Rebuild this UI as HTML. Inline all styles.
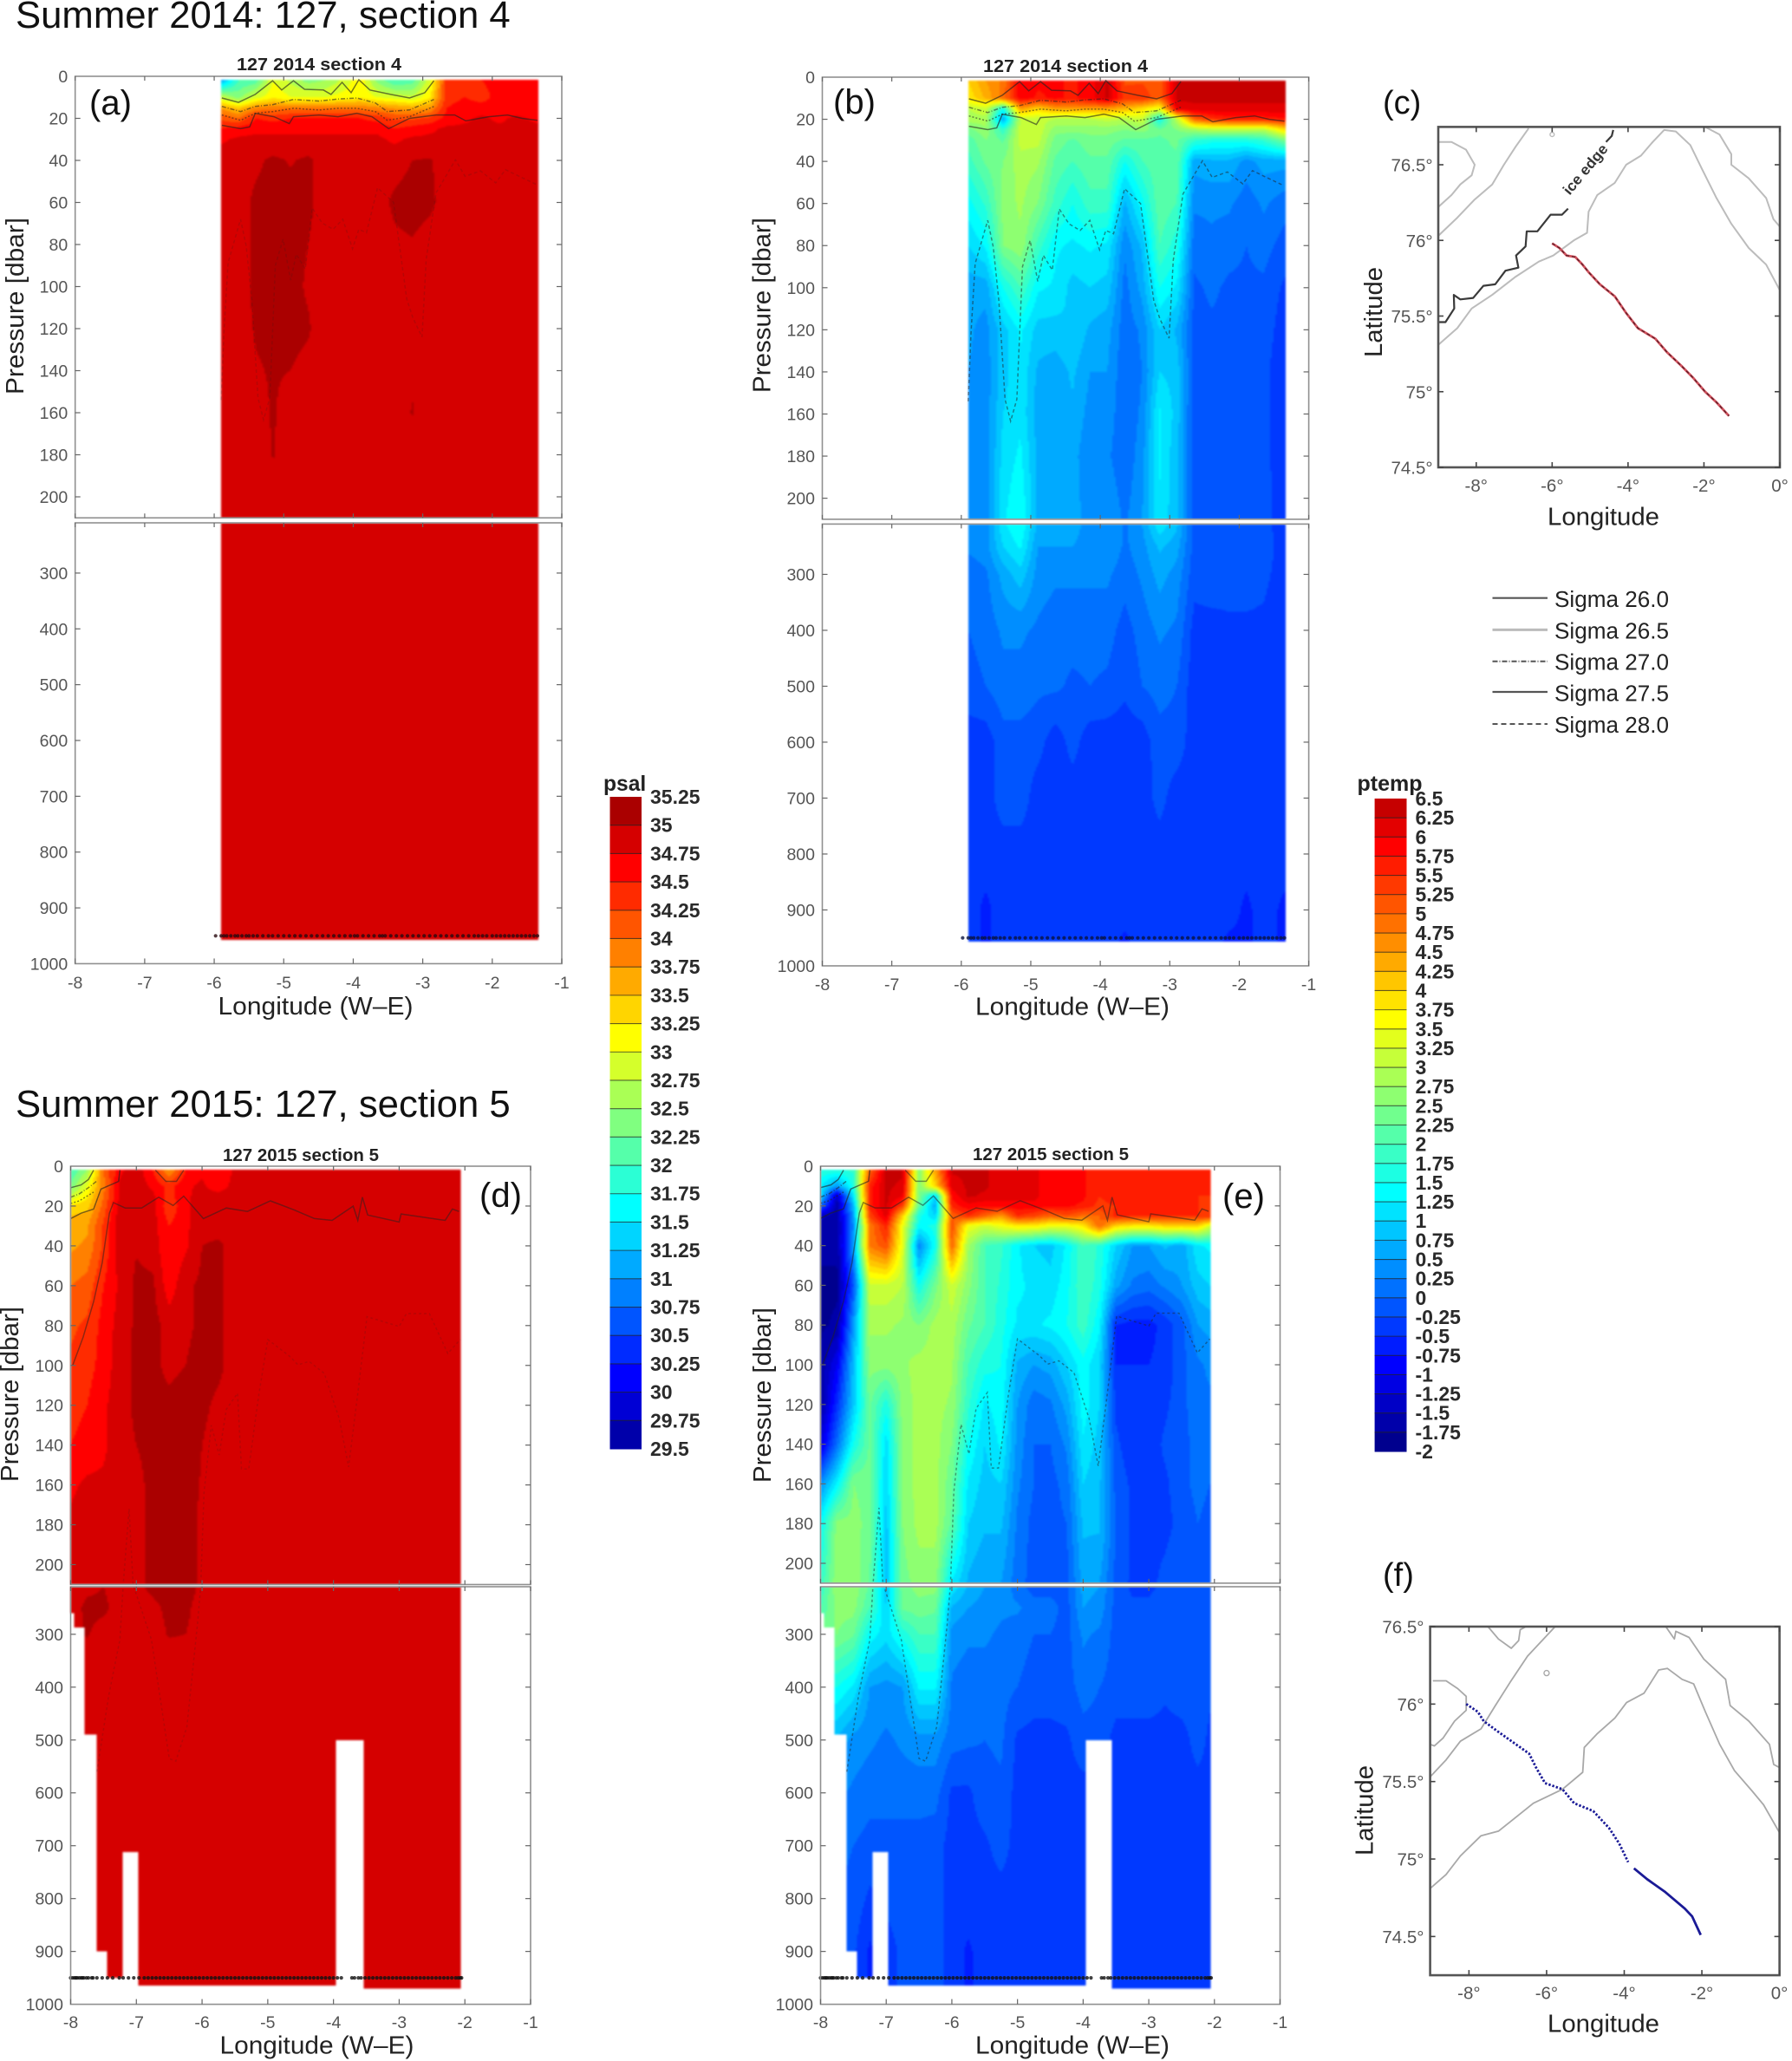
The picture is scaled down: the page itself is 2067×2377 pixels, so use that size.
<!DOCTYPE html>
<html lang="en">
<head>
<meta charset="utf-8">
<title>Summer 2014 and 2015 sections</title>
<style>
html,body{margin:0;padding:0;background:#fff;}
svg{display:block;font-family:"Liberation Sans",Arial,sans-serif;}
</style>
</head>
<body>
<svg id="figure" xmlns="http://www.w3.org/2000/svg" width="2067" height="2377" viewBox="0 0 2067 2377">
<rect x="0" y="0" width="2067" height="2377" fill="#fff"/>
<g id="fields" style="filter:blur(1px)"></g>
<g id="overlays"></g>

<text x="18" y="32" font-size="43.7" fill="#111">Summer 2014: 127, section 4</text>
<text x="18" y="1288" font-size="43.7" fill="#111">Summer 2015: 127, section 5</text>

<text x="368" y="81" font-size="20" font-weight="bold" fill="#222" text-anchor="middle" textLength="190" lengthAdjust="spacingAndGlyphs">127 2014 section 4</text>
<text x="1229" y="83" font-size="20" font-weight="bold" fill="#222" text-anchor="middle" textLength="190" lengthAdjust="spacingAndGlyphs">127 2014 section 4</text>
<text x="347" y="1339" font-size="20" font-weight="bold" fill="#222" text-anchor="middle" textLength="180" lengthAdjust="spacingAndGlyphs">127 2015 section 5</text>
<text x="1212" y="1338" font-size="20" font-weight="bold" fill="#222" text-anchor="middle" textLength="180" lengthAdjust="spacingAndGlyphs">127 2015 section 5</text>

<text x="103" y="132" font-size="40" fill="#111">(a)</text>
<text x="961" y="131" font-size="40" fill="#111">(b)</text>
<text x="1595" y="131" font-size="38" fill="#111">(c)</text>
<text x="553" y="1392" font-size="40" fill="#111">(d)</text>
<text x="1410" y="1393" font-size="40" fill="#111">(e)</text>
<text x="1595" y="1829" font-size="38" fill="#111">(f)</text>

<text transform="translate(27,353) rotate(-90)" font-size="29" fill="#222" text-anchor="middle" textLength="204" lengthAdjust="spacingAndGlyphs">Pressure [dbar]</text>
<text transform="translate(888.5,352) rotate(-90)" font-size="29" fill="#222" text-anchor="middle" textLength="202" lengthAdjust="spacingAndGlyphs">Pressure [dbar]</text>
<text transform="translate(21,1608) rotate(-90)" font-size="29" fill="#222" text-anchor="middle" textLength="202" lengthAdjust="spacingAndGlyphs">Pressure [dbar]</text>
<text transform="translate(889,1609) rotate(-90)" font-size="29" fill="#222" text-anchor="middle" textLength="202" lengthAdjust="spacingAndGlyphs">Pressure [dbar]</text>

<text x="364" y="1170" font-size="29" fill="#222" text-anchor="middle" textLength="225" lengthAdjust="spacingAndGlyphs">Longitude (W–E)</text>
<text x="1237" y="1170.5" font-size="29" fill="#222" text-anchor="middle" textLength="224" lengthAdjust="spacingAndGlyphs">Longitude (W–E)</text>
<text x="365.5" y="2368.5" font-size="29" fill="#222" text-anchor="middle" textLength="224" lengthAdjust="spacingAndGlyphs">Longitude (W–E)</text>
<text x="1237" y="2368.5" font-size="29" fill="#222" text-anchor="middle" textLength="224" lengthAdjust="spacingAndGlyphs">Longitude (W–E)</text>

<text x="1849.5" y="605.5" font-size="29" fill="#222" text-anchor="middle" textLength="129" lengthAdjust="spacingAndGlyphs">Longitude</text>
<text transform="translate(1594,360) rotate(-90)" font-size="29" fill="#222" text-anchor="middle" textLength="104" lengthAdjust="spacingAndGlyphs">Latitude</text>
<text x="1849.5" y="2343.5" font-size="29" fill="#222" text-anchor="middle" textLength="129" lengthAdjust="spacingAndGlyphs">Longitude</text>
<text transform="translate(1583.5,2088) rotate(-90)" font-size="29" fill="#222" text-anchor="middle" textLength="104" lengthAdjust="spacingAndGlyphs">Latitude</text>
<text transform="translate(1833,199) rotate(-50)" font-size="17" font-weight="bold" fill="#333" text-anchor="middle" textLength="70" lengthAdjust="spacingAndGlyphs">ice edge</text>

<g>
<line x1="1721.5" x2="1785" y1="689.7" y2="689.7" stroke="#555" stroke-width="2.2"/>
<line x1="1721.5" x2="1785" y1="726.4" y2="726.4" stroke="#bbb" stroke-width="3"/>
<line x1="1721.5" x2="1785" y1="762.7" y2="762.7" stroke="#555" stroke-width="2" stroke-dasharray="6 2 1 2"/>
<line x1="1721.5" x2="1785" y1="798" y2="798" stroke="#555" stroke-width="2.2"/>
<line x1="1721.5" x2="1785" y1="835" y2="835" stroke="#555" stroke-width="2" stroke-dasharray="6 4"/>
<text x="1793" y="700" font-size="25.5" fill="#222" textLength="132" lengthAdjust="spacingAndGlyphs">Sigma 26.0</text>
<text x="1793" y="736.6" font-size="25.5" fill="#222" textLength="132" lengthAdjust="spacingAndGlyphs">Sigma 26.5</text>
<text x="1793" y="772.5" font-size="25.5" fill="#222" textLength="132" lengthAdjust="spacingAndGlyphs">Sigma 27.0</text>
<text x="1793" y="808.5" font-size="25.5" fill="#222" textLength="132" lengthAdjust="spacingAndGlyphs">Sigma 27.5</text>
<text x="1793" y="845" font-size="25.5" fill="#222" textLength="132" lengthAdjust="spacingAndGlyphs">Sigma 28.0</text>
</g>

<text x="696" y="912" font-size="24.6" font-weight="bold" fill="#222">psal</text>
<text x="1565.5" y="912" font-size="25" font-weight="bold" fill="#222">ptemp</text>
</svg>

<script>
/* ---------- tick labels ---------- */
const xTickLons = [-8,-7,-6,-5,-4,-3,-2,-1];
const upperPressureTicks = [0,20,40,60,80,100,120,140,160,180,200];
const lowerPressureTicks = [300,400,500,600,700,800,900,1000];
const psalTicks = [35.25,35,34.75,34.5,34.25,34,33.75,33.5,33.25,33,32.75,32.5,32.25,32,31.75,31.5,31.25,31,30.75,30.5,30.25,30,29.75,29.5];
const ptempTicks = [6.5,6.25,6,5.75,5.5,5.25,5,4.75,4.5,4.25,4,3.75,3.5,3.25,3,2.75,2.5,2.25,2,1.75,1.5,1.25,1,0.75,0.5,0.25,0,-0.25,-0.5,-0.75,-1,-1.25,-1.5,-1.75,-2];
const mapLonTicks = [-8,-6,-4,-2,0];
const mapLatTicks = [76.5,76,75.5,75,74.5];

/* ---------- section grids ---------- */
const lon2014 = [-5.9,-5.65,-5.4,-5.15,-4.9,-4.65,-4.4,-4.15,-3.9,-3.65,-3.4,-3.15,-2.9,-2.65,-2.4,-2.15,-1.9,-1.65,-1.35];
const lon2015 = [-8,-7.75,-7.5,-7.25,-7,-6.75,-6.5,-6.25,-6,-5.75,-5.5,-5.25,-5,-4.75,-4.5,-4.25,-4,-3.75,-3.5,-3.25,-3,-2.75,-2.5,-2.25,-2.07];
const lonSalinity2015 = [-8,-7.75,-7.5,-7.25,-7,-6.75,-6.5,-6.25,-6,-5.75,-5.5,-5.25,-2.07];

const pressureSalinity2014 = [2,10,15,20,25,30,40,60,80,100,120,140,160,180,210,957];
const salinity2014 = [
[31.1,32,32.1,33,32.7,32.4,32.5,32.8,33.2,32.4,32,32.1,32.9,34.4,34.4,34.5,34.6,34.6,34.6],
[32.8,32.4,32.9,33.2,33,33,33,33.1,33.2,33,32.9,32.8,33.2,34.4,34.5,34.4,34.6,34.6,34.6],
[33.7,33.4,33.8,33.9,33.9,33.9,33.9,33.9,33.9,33.8,33.7,33.6,33.7,34.5,34.6,34.6,34.6,34.6,34.6],
[34.2,34,34.5,34.4,34.5,34.5,34.5,34.5,34.5,34.4,34.2,34.2,34.3,34.6,34.7,34.8,34.7,34.8,34.7],
[34.5,34.6,34.7,34.7,34.7,34.7,34.7,34.7,34.7,34.7,34.5,34.6,34.7,34.8,34.8,34.8,34.8,34.8,34.8],
[34.7,34.8,34.8,34.8,34.8,34.8,34.8,34.8,34.8,34.8,34.7,34.8,34.8,34.8,34.8,34.8,34.8,34.8,34.8],
[34.9,34.9,34.95,35.05,34.98,35.05,34.9,34.9,34.98,34.9,34.9,35,35.02,34.9,34.9,34.9,34.9,34.9,34.9],
[34.9,34.9,35.05,35.1,35.1,35.05,34.9,34.9,34.9,34.9,35.05,35.1,35.05,34.9,34.9,34.9,34.9,34.9,34.9],
[34.9,34.9,35.05,35.1,35.05,35,34.9,34.9,34.9,34.9,34.95,34.98,34.9,34.9,34.9,34.9,34.9,34.9,34.9],
[34.9,34.9,35.05,35.1,35.05,34.98,34.9,34.9,34.9,34.9,34.9,34.9,34.9,34.9,34.9,34.9,34.9,34.9,34.9],
[34.9,34.9,35.02,35.05,35.05,35.02,34.9,34.9,34.9,34.9,34.9,34.9,34.9,34.9,34.9,34.9,34.9,34.9,34.9],
[34.9,34.9,34.98,35.02,35,34.95,34.9,34.9,34.9,34.9,34.9,34.98,34.9,34.9,34.9,34.9,34.9,34.9,34.9],
[34.9,34.9,34.92,35.02,34.9,34.9,34.9,34.9,34.9,34.9,34.9,35.01,34.9,34.9,34.9,34.9,34.9,34.9,34.9],
[34.9,34.9,34.9,35.01,34.9,34.9,34.9,34.9,34.9,34.9,34.9,34.9,34.9,34.9,34.9,34.9,34.9,34.9,34.9],
[34.9,34.9,34.9,34.9,34.9,34.9,34.9,34.9,34.9,34.9,34.9,34.9,34.9,34.9,34.9,34.9,34.9,34.9,34.9],
[34.9,34.9,34.9,34.9,34.9,34.9,34.9,34.9,34.9,34.9,34.9,34.9,34.9,34.9,34.9,34.9,34.9,34.9,34.9]
];

const pressureTemperature2014 = [2,10,15,20,25,30,40,60,80,100,120,140,160,180,210,250,300,400,500,600,700,800,900,957];
const temperature2014 = [
[4.0,4.5,4.8,6,5.8,5.8,5.7,5.9,6.3,5.2,5.2,5.0,6.3,6.3,6.3,6.3,6.3,6.3,6.3],
[3.8,4.3,4.9,5.9,5.7,5.8,5.7,5.9,6.3,5.4,5.5,5.0,6.3,6.3,6.3,6.3,6.3,6.3,6.3],
[3.0,3.2,1.5,4.5,4.0,4.5,4.5,4.5,4.5,4.3,3.9,3.5,6.1,6.2,6.2,6.2,6.2,6.2,6.2],
[2.9,2.9,0.6,3.1,3.1,3.0,3.0,3.0,3.1,3.0,3.2,1.5,3.0,5.0,5.4,5.6,5.6,5.6,5.7],
[2.4,2.7,1.8,3.1,3.2,2.6,2.6,2.6,2.6,2.5,2.6,2.3,2.5,2.8,3.0,3.0,3.0,3.0,3.9],
[2.1,2.5,2.2,3.1,3.1,2.4,2.2,2.4,2.4,2.2,2.2,2.2,2.3,1.8,1.6,1.6,1.6,1.8,2.4],
[1.9,2.3,2.5,2.9,2.8,2.2,2.0,2.2,2.2,1.5,2.0,2.2,2.2,0.6,0.7,0.7,0.4,0.6,0.6],
[1.4,1.8,2.6,2.8,2.5,1.9,1.5,1.9,1.9,0.7,1.4,2.2,2.0,0.3,0.3,0.3,0.1,0.3,0.1],
[1.0,1.3,2.5,2.7,1.9,1.3,1.2,1.3,1.2,0.3,0.8,2.0,1.6,0.1,0.2,0.1,0,0.1,-0.1],
[0.6,0.6,1.5,2.0,1.3,1.2,0.9,1.0,0.9,0.15,0.6,1.5,1.2,-0.05,0.05,-0.05,-0.05,-0.05,-0.3],
[0.55,0.4,0.9,1.3,0.9,0.9,1.0,0.7,0.6,0.1,0.3,1.0,0.7,-0.1,-0.05,-0.05,-0.1,-0.1,-0.4],
[0.5,0.35,0.9,1.2,0.7,0.6,0.8,0.5,0.5,0.05,0.25,1.0,0.9,-0.1,-0.1,-0.1,-0.1,-0.15,-0.5],
[0.5,0.35,1.0,1.2,0.6,0.6,0.7,0.4,0.4,0.05,0.3,1.3,0.9,-0.15,-0.1,-0.1,-0.1,-0.15,-0.5],
[0.45,0.35,1.1,1.3,0.7,0.5,0.6,0.3,0.3,0.05,0.4,1.3,0.8,-0.1,-0.1,-0.1,-0.1,-0.15,-0.45],
[0.45,0.35,1.2,1.5,0.7,0.6,0.6,0.4,0.5,0.2,0.5,1.2,0.8,-0.1,-0.1,-0.1,-0.1,-0.15,-0.4],
[0.3,0.4,1.0,1.3,0.5,0.5,0.5,0.4,0.5,0.2,0.4,0.8,0.6,-0.1,-0.1,-0.1,-0.1,-0.15,-0.35],
[0.1,0.2,0.6,0.9,0.4,0.3,0.3,0.3,0.3,0.1,0.3,0.6,0.4,-0.15,-0.1,-0.15,-0.15,-0.2,-0.35],
[0,0.1,0.3,0.3,0.2,0.1,0.1,0.1,0.1,-0.1,0.1,0.3,0.2,-0.35,-0.35,-0.3,-0.3,-0.3,-0.4],
[-0.1,0,0.15,0.15,0.05,0.05,-0.05,0,-0.05,-0.2,0,0.1,0,-0.4,-0.4,-0.4,-0.4,-0.4,-0.4],
[-0.4,-0.4,-0.1,-0.1,-0.15,-0.4,-0.15,-0.4,-0.4,-0.4,-0.4,-0.1,-0.1,-0.4,-0.4,-0.4,-0.4,-0.4,-0.4],
[-0.4,-0.4,-0.1,-0.1,-0.4,-0.4,-0.4,-0.4,-0.4,-0.4,-0.4,-0.15,-0.4,-0.4,-0.4,-0.4,-0.4,-0.4,-0.4],
[-0.4,-0.4,-0.4,-0.4,-0.4,-0.4,-0.4,-0.4,-0.4,-0.4,-0.4,-0.4,-0.4,-0.4,-0.4,-0.4,-0.4,-0.4,-0.4],
[-0.4,-0.55,-0.4,-0.4,-0.4,-0.4,-0.4,-0.4,-0.4,-0.4,-0.4,-0.4,-0.4,-0.4,-0.4,-0.4,-0.55,-0.4,-0.55],
[-0.4,-0.55,-0.4,-0.4,-0.4,-0.4,-0.4,-0.4,-0.4,-0.55,-0.4,-0.4,-0.4,-0.4,-0.4,-0.55,-0.55,-0.4,-0.55]
];

const pressureSalinity2015 = [2,10,15,20,25,30,40,60,80,100,120,140,160,180,210,250,300,340,975];
const salinity2015 = [
[32,32.5,34,34.7,34.9,34.5,33.7,34.5,34.7,34.5,34.8,34.9,34.9],
[32.3,33,33.9,34.8,34.9,34.7,34.4,34.7,34.8,34.6,34.85,34.9,34.9],
[32.8,33.2,34,34.8,34.9,34.8,34.4,34.7,34.85,34.85,34.9,34.9,34.9],
[33.3,33.4,34.1,34.85,34.9,34.85,34.3,34.7,34.9,34.9,34.9,34.9,34.9],
[33.5,33.6,34.2,34.9,34.9,34.85,34.4,34.7,34.9,34.9,34.9,34.9,34.9],
[33.6,33.7,34.3,34.9,34.9,34.85,34.5,34.7,34.9,34.9,34.9,34.9,34.9],
[33.7,33.8,34.3,34.9,34.98,34.9,34.5,34.7,35,35.05,34.9,34.9,34.9],
[34,34.1,34.5,34.8,35.05,35.05,34.6,34.95,35.05,35.05,34.9,34.9,34.9],
[34.2,34.3,34.6,34.85,35.05,35.1,34.9,34.95,35.05,35.05,34.9,34.9,34.9],
[34.3,34.4,34.6,34.9,35.05,35.05,34.95,35,35.1,35.05,34.9,34.9,34.9],
[34.4,34.5,34.7,34.9,35.05,35.05,35.05,35.1,35.05,34.95,34.9,34.9,34.9],
[34.5,34.6,34.7,34.9,35,35.05,35.1,35.1,35,34.9,34.9,34.9,34.9],
[34.7,34.8,34.8,34.9,34.95,35.05,35.1,35.1,34.98,34.9,34.9,34.9,34.9],
[34.8,34.9,34.9,34.95,34.95,35.05,35.1,35.1,34.95,34.9,34.9,34.9,34.9],
[34.9,34.95,35,34.9,34.95,35.05,35.1,35.1,34.95,34.9,34.9,34.9,34.9],
[34.9,35.05,35.05,34.9,34.9,34.95,35.05,35.05,34.9,34.9,34.9,34.9,34.9],
[34.9,35.02,34.9,34.9,34.9,34.9,35.02,35,34.9,34.9,34.9,34.9,34.9],
[34.9,34.9,34.9,34.9,34.9,34.9,34.9,34.9,34.9,34.9,34.9,34.9,34.9],
[34.9,34.9,34.9,34.9,34.9,34.9,34.9,34.9,34.9,34.9,34.9,34.9,34.9]
];

const pressureTemperature2015 = [2,10,15,20,25,30,40,60,80,100,120,140,160,180,210,250,300,400,500,600,700,800,900,975];
const temperature2015 = [
[1.7,1.7,1.8,5,6.3,6.3,2.6,4.5,6.3,6.3,6.3,6.1,6.1,6.1,5.8,5.8,5.8,5.5,5.7,5.5,5.5,5.5,5.5,5.5,5.5],
[1.3,0.5,1.6,5.6,6.3,6.2,2.5,4,6.1,6.3,6.3,6.1,6.1,6.1,5.8,5.8,5.8,5.5,5.7,5.5,5.5,5.5,5.5,5.5,5.5],
[1.1,-1.4,1.2,5.6,6.3,6,2.5,1,5.8,6.3,6.2,6.1,6.1,6.1,5.8,5.8,5.8,5.5,5.7,5.5,5.5,5.5,5.5,5.5,5.5],
[0,-1.6,0.7,5.6,6.3,5.3,2.2,0.6,5.6,5.9,5.8,5.9,5.9,5.9,5.8,5.8,5.7,5.4,5.5,5.5,5.5,5.5,5.5,5.5,5.4],
[-1.4,-1.7,0.5,5.3,6.1,4,1.6,1,5,5.5,5,4.5,5.5,5.3,5,5.2,4.9,5,5.6,5.5,5.5,5.5,5.5,5.5,5.5],
[-1.6,-1.7,0.3,4.8,5.6,3.5,1.4,1.6,5.2,3.5,3.2,3.5,3.8,3.8,3.5,3.5,3.8,5,4,3.8,3.8,4,4,4,3.3],
[-1.7,-1.7,0.5,4.8,5.2,3.4,0.3,1.5,5,2.8,2,1.8,1.3,1,0.9,1.3,2,1.7,1,0.5,0.5,0.8,0.6,1.2,1.3],
[-1.8,-1.8,-0.2,3.2,3.2,3,1.5,2.4,3.2,2.6,2,1.7,1.3,1.2,1.1,1.4,2,1.6,0.6,0.2,0.1,0.3,0.5,0.9,1],
[-1.8,-1.7,0.5,2.8,2.8,2.7,2.5,2.85,2.9,2.3,2,1.6,1.2,1.2,1.3,1.5,1.9,1.3,-0.5,-0.6,-0.6,-0.4,-0.1,0.5,0.6],
[-1.7,-1,0.8,2.6,2.6,2.7,2.85,2.9,2.8,2,1.6,1.5,0.7,0.5,0.6,1,1.4,1,-0.5,-0.5,-0.5,-0.4,-0.1,0.2,0.3],
[-1.7,-0.5,0.9,2.3,1.6,2.6,2.85,2.85,2.7,1.8,1.2,1.4,0.5,0.1,0.2,0.6,1.4,1,-0.3,-0.4,-0.4,-0.3,-0.1,0.2,0.2],
[-1.2,0.1,1.5,2.3,1.1,2.6,2.85,2.85,2.5,1.5,1,1.3,0.4,0,0,0.3,1.2,0.9,-0.2,-0.4,-0.4,-0.2,-0.1,0.1,0.1],
[0.4,1.3,2.5,2.4,1,2.6,2.85,2.85,2.3,1.2,0.9,1,0.3,0,-0.1,0.1,1,0.8,-0.1,-0.3,-0.3,-0.3,-0.1,0.1,0],
[1.4,2.6,2.6,2.4,0.9,2.5,2.85,2.85,2.2,1,0.8,0.8,0.2,-0.1,-0.1,0,0.8,0.8,0,-0.3,-0.3,-0.3,-0.2,0,-0.1],
[1.8,2.7,2.7,2.2,0.8,2.4,2.6,2.6,1.2,0.7,0.5,0.5,0.1,-0.1,-0.1,-0.1,0.6,0.5,-0.1,-0.3,-0.3,-0.2,-0.1,-0.1,-0.2],
[2,2.6,2.6,2,1,2.3,2.4,2.3,0.7,0.5,0.4,0.3,0.3,0.1,0.1,-0.1,0.5,0.4,-0.1,-0.2,-0.2,-0.1,0,-0.1,-0.2],
[2.4,2.5,2.3,1.4,1.1,1.6,2,2,0.4,0.3,0.3,0.2,0.1,0,0,-0.1,0.3,0.2,-0.1,-0.2,-0.2,-0.1,-0.1,-0.1,-0.2],
[1.5,1.5,1.2,0.5,0.4,0.5,1.3,1.3,0.2,0.1,0.1,0.1,0,-0.1,-0.1,-0.1,0.1,0,-0.1,-0.1,-0.1,-0.2,-0.1,-0.1,-0.2],
[0.7,0.7,0.4,0.3,0.2,0.3,0.4,0.4,0.1,0.05,0,0.05,-0.3,-0.35,-0.35,-0.3,-0.1,-0.1,-0.35,-0.35,-0.35,-0.35,-0.35,-0.15,-0.3],
[0.3,0.3,0.2,0.1,0.1,0.1,0.1,0.1,-0.3,-0.3,-0.1,-0.05,-0.35,-0.35,-0.35,-0.35,-0.35,-0.35,-0.35,-0.35,-0.35,-0.35,-0.35,-0.35,-0.35],
[0.1,0.1,0,-0.1,-0.1,-0.1,-0.1,-0.15,-0.35,-0.35,-0.3,-0.15,-0.35,-0.35,-0.35,-0.35,-0.35,-0.35,-0.35,-0.35,-0.35,-0.35,-0.35,-0.35,-0.35],
[0,0,-0.1,-0.3,-0.2,-0.15,-0.15,-0.15,-0.35,-0.35,-0.35,-0.35,-0.35,-0.35,-0.35,-0.35,-0.35,-0.35,-0.35,-0.35,-0.35,-0.35,-0.35,-0.35,-0.35],
[-0.1,-0.1,-0.2,-0.55,-0.35,-0.2,-0.15,-0.15,-0.35,-0.55,-0.35,-0.35,-0.35,-0.35,-0.35,-0.35,-0.35,-0.35,-0.35,-0.35,-0.35,-0.35,-0.35,-0.35,-0.35],
[-0.1,-0.1,-0.2,-0.55,-0.35,-0.2,-0.15,-0.15,-0.35,-0.55,-0.35,-0.35,-0.35,-0.35,-0.35,-0.35,-0.35,-0.35,-0.35,-0.35,-0.35,-0.35,-0.35,-0.35,-0.35]
];

/* ---------- sea-floor steps (edges in longitude, one depth per interval) ---------- */
const bottomEdges2014 = [-5.9,-1.35];
const bottomDepths2014 = [957];
const bottomEdges2015 = [-8,-7.96,-7.8,-7.6,-7.45,-7.22,-6.97,-3.97,-3.55,-2.07];
const bottomDepths2015 = [260,287,490,900,950,712,965,500,970];

/* ---------- density contours 2014 ---------- */
const sigma260Lon2014 = [-5.89,-5.65,-5.41,-5.16,-5.03,-4.86,-4.7,-4.43,-4.32,-4.16,-4.03,-3.92,-3.76,-3.46,-3.19,-2.97,-2.84];
const sigma260Prs2014 = [10.3,12.4,8.6,2.1,6.5,2.1,6.2,6.5,8.6,2.9,7.8,1.6,6.5,8.6,10.3,7.8,2.1];
const sigma265Lon2014 = [-5.89,-5.62,-5.41,-5.16,-4.86,-4.49,-4.22,-3.95,-3.68,-3.51,-3.19,-2.84];
const sigma265Prs2014 = [14.3,16.8,14.3,13.5,11,11.8,10.8,10.3,12.7,16.8,16,11];
const sigma270Prs2014 = [18.4,20.9,17.6,16.8,15.2,16,15.2,15.2,16.8,20.9,19.2,14.3];
const sigma275Lon2014 = [-5.89,-5.62,-5.49,-5.41,-5.14,-4.92,-4.86,-4.49,-4.22,-3.95,-3.73,-3.49,-3.19,-2.81,-2.54,-2.38,-2.05,-1.78,-1.57,-1.35];
const sigma275Prs2014 = [23.3,24.9,24.1,17.6,19.2,22.5,19.2,18.4,19.2,17.6,19.2,24.9,20,18.4,18.4,21.2,19.2,18.4,20,20.9];
const sigma280Lon2014 = [-5.9,-5.86,-5.8,-5.62,-5.54,-5.46,-5.37,-5.29,-5.2,-5.12,-5.01,-4.9,-4.82,-4.69,-4.59,-4.45,-4.29,-4.15,-4.01,-3.92,-3.81,-3.65,-3.42,-3.23,-3.14,-3.01,-2.95,-2.81,-2.53,-2.39,-2.17,-1.95,-1.81,-1.61,-1.36];
const sigma280Prs2014 = [154,121.7,88.6,68,80.7,106,153,163.4,153,90,77.5,97,84.6,91.7,62.6,69.7,72.8,68,82,72.8,74.4,53,60,106,115,124,87,55.5,39.7,47.6,45,50.7,44.4,47.6,51.5];

/* ---------- density contours 2015 ---------- */
const sigma260Lon2015 = [-8,-7.84,-7.73,-7.65];
const sigma260Prs2015 = [10.8,9.4,6.7,2];
const sigma265Lon2015 = [-8,-7.87,-7.73,-7.61];
const sigma265Prs2015 = [15.6,13.9,10.8,7.6];
const sigma270Lon2015 = [-8,-7.87,-7.65];
const sigma270Prs2015 = [18.7,17.4,13];
const sigma262Lon2015 = [-8,-7.84,-7.65,-7.54,-7.27,-7.25];
const sigma262Prs2015 = [26.3,23.6,21.5,11.5,7.6,2];
const sigmaCapLon2015 = [-6.71,-6.55,-6.39,-6.28];
const sigmaCapPrs2015 = [2,7.6,7.6,2];
const sigma275Lon2015 = [-7.97,-7.81,-7.65,-7.52,-7.41,-7.35,-7.17,-6.92,-6.66,-6.44,-6.28,-5.98,-5.63,-5.31,-4.96,-4.61,-4.29,-4.02,-3.7,-3.63,-3.56,-3.48,-3,-2.97,-2.3,-2.19,-2.09];
const sigma275Prs2015 = [100,85.8,68,48.5,23.6,18.3,21,21,15.6,19.7,15,26.3,21,22.7,17.4,21.8,26.3,27.2,20,27.2,15.6,24.5,28,24,27.2,21.5,22.7];
const sigma280Lon2015 = [-7.6,-7.42,-7.25,-7.2,-7.11,-7.05,-6.77,-6.5,-6.4,-6.23,-6.07,-6.02,-5.97,-5.86,-5.74,-5.63,-5.46,-5.4,-5.29,-5.14,-5,-4.66,-4.54,-4.37,-4.14,-3.91,-3.77,-3.63,-3.49,-3,-2.89,-2.54,-2.26,-2.07];
const sigma280Prs2015 = [560,415,310,210,172,210,310,535,540,475,280,210,164,130,145,122,114,152,152,115.6,87,95.6,99.7,98,104,127,151,114,75.5,80.5,74,74,94,87];

/* ---------- stations at 950 dbar ---------- */
const stations2014 = [-5.98,-5.9,-5.86,-5.82,-5.76,-5.7,-5.66,-5.6,-5.54,-5.5,-5.44,-5.38,-5.3,-5.22,-5.16,-5.08,-5,-4.92,-4.84,-4.76,-4.68,-4.6,-4.52,-4.44,-4.36,-4.28,-4.2,-4.12,-4.04,-3.98,-3.94,-3.86,-3.78,-3.7,-3.62,-3.58,-3.54,-3.46,-3.38,-3.3,-3.22,-3.14,-3.06,-2.98,-2.9,-2.82,-2.74,-2.66,-2.58,-2.5,-2.42,-2.34,-2.26,-2.2,-2.14,-2.08,-2,-1.94,-1.88,-1.82,-1.76,-1.7,-1.64,-1.58,-1.52,-1.46,-1.4,-1.35];
const stations2015 = [-8,-7.97,-7.94,-7.92,-7.9,-7.87,-7.84,-7.82,-7.8,-7.76,-7.73,-7.68,-7.66,-7.6,-7.52,-7.44,-7.36,-7.26,-7.2,-7.12,-7.04,-6.96,-6.88,-6.82,-6.76,-6.7,-6.64,-6.58,-6.52,-6.46,-6.4,-6.34,-6.28,-6.22,-6.16,-6.1,-6.04,-5.98,-5.92,-5.86,-5.8,-5.74,-5.68,-5.62,-5.56,-5.5,-5.44,-5.38,-5.32,-5.26,-5.2,-5.14,-5.08,-5.02,-4.96,-4.9,-4.84,-4.78,-4.72,-4.66,-4.6,-4.54,-4.48,-4.42,-4.36,-4.3,-4.24,-4.18,-4.12,-4.06,-4,-3.94,-3.88,-3.72,-3.68,-3.62,-3.58,-3.52,-3.46,-3.4,-3.34,-3.28,-3.22,-3.16,-3.1,-3.04,-2.98,-2.92,-2.86,-2.8,-2.74,-2.68,-2.62,-2.56,-2.5,-2.44,-2.38,-2.32,-2.26,-2.2,-2.14,-2.1,-2.07,-2.05];

/* ---------- map (c) ---------- */
const mapC1Lon = [-9,-8.65,-8.27,-8.04,-8.12,-8.42,-8.65,-8.96,-9];
const mapC1Lat = [76.65,76.65,76.6,76.5,76.43,76.37,76.3,76.23,76.22];
const mapC2Lon = [-9,-8.5,-8.04,-7.58,-7.27,-6.96,-6.62];
const mapC2Lat = [76.03,76.15,76.27,76.37,76.5,76.62,76.74];
const mapC3Lon = [-9,-8.5,-8.12,-7.58,-6.96,-6.35,-5.97,-5.43,-5.08,-5.04,-4.81,-4.35,-4.05,-3.66,-3.35,-3.05,-2.74,-2.36,-2.05,-1.67,-1.28,-0.82,-0.36,0];
const mapC3Lat = [75.31,75.42,75.55,75.64,75.76,75.86,75.9,76,76.05,76.19,76.3,76.38,76.5,76.56,76.65,76.73,76.72,76.63,76.47,76.28,76.11,75.95,75.84,75.67];
const mapC4Lon = [-1.97,-1.59,-1.28,-1.28,-0.82,-0.36,-0.17,0];
const mapC4Lat = [76.75,76.7,76.57,76.5,76.41,76.28,76.14,76.09];
const iceEdgeLon = [-9,-8.81,-8.58,-8.59,-8.42,-8.08,-7.81,-7.5,-7.23,-6.89,-6.95,-6.7,-6.67,-6.39,-6.04,-5.74,-5.58];
const iceEdgeLat = [75.46,75.46,75.55,75.64,75.61,75.62,75.7,75.71,75.8,75.82,75.9,75.96,76.06,76.06,76.17,76.17,76.21];
const iceEdgeTopLon = [-4.58,-4.43,-4.39];
const iceEdgeTopLat = [76.65,76.69,76.73];
const trackCLon = [-6,-5.81,-5.62,-5.39,-5.2,-5.04,-4.74,-4.35,-4.05,-3.74,-3.28,-2.97,-2.59,-2.28,-1.97,-1.67,-1.34];
const trackCLat = [75.98,75.95,75.9,75.89,75.84,75.79,75.71,75.63,75.52,75.42,75.35,75.26,75.17,75.09,75,74.93,74.84];

/* ---------- map (f) ---------- */
const mapF1Lon = [-8.93,-8.59,-8.29,-8.07,-8.07,-8.37,-8.67,-8.89,-9];
const mapF1Lat = [76.15,76.15,76.1,76.05,75.96,75.89,75.78,75.73,75.74];
const mapF2Lon = [-9,-8.59,-8.22,-7.69,-7.32,-6.94,-6.49,-6.04,-5.78];
const mapF2Lat = [75.53,75.64,75.76,75.84,75.99,76.14,76.31,76.43,76.5];
const mapF3Lon = [-9,-8.59,-8.22,-7.69,-7.24,-6.79,-6.34,-5.59,-5.07,-5.03,-4.69,-4.24,-3.94,-3.49,-3.11,-2.89,-2.51,-2.21,-1.91,-1.54,-1.16,-0.71,-0.41,0];
const mapF3Lat = [74.81,74.9,75.02,75.15,75.18,75.27,75.36,75.45,75.56,75.72,75.81,75.91,76.01,76.07,76.22,76.23,76.16,76.13,75.95,75.74,75.57,75.44,75.35,75.17];
const mapF4Lon = [-7.51,-7.24,-6.91,-6.72,-6.68,-6.53];
const mapF4Lat = [76.5,76.42,76.36,76.41,76.48,76.5];
const mapF5Lon = [-2.93,-2.71,-2.67,-2.33,-1.95,-1.39,-1.27,-0.79,-0.26,-0.15,0];
const mapF5Lat = [76.5,76.42,76.47,76.43,76.29,76.16,75.99,75.89,75.74,75.61,75.59];
const trackFWestLon = [-8.07,-7.77,-7.62,-7.24,-6.79,-6.45,-6.27,-6.04,-5.59,-5.29,-4.8,-4.39,-4.13,-3.9];
const trackFWestLat = [76,75.95,75.89,75.82,75.74,75.68,75.59,75.49,75.45,75.36,75.31,75.2,75.1,74.98];
const trackFEastLon = [-3.75,-3.41,-2.96,-2.44,-2.25,-2.03];
const trackFEastLat = [74.94,74.87,74.79,74.68,74.63,74.51];

/* ---------- layout (not data) ---------- */
const panelA = {id:'a', xL:86.7,  xR:648,    yTop:88,   kU:2.425,  yLow:603,    kL:0.6436, yDots:1140};
const panelB = {id:'b', xL:948.5, xR:1509.6, yTop:89,   kU:2.428,  yLow:604.4,  kL:0.645,  yDots:1142};
const panelD = {id:'d', xL:81.5,  xR:612,    yTop:1345, kU:2.2975, yLow:1830,   kL:0.6096, yDots:2339};
const panelE = {id:'e', xL:946.5, xR:1476.5, yTop:1345, kU:2.29,   yLow:1830,   kL:0.6096, yDots:2339};
const mapC = {id:'c', xL:1659,   xR:2053,   yA:190,  k:174.5, top:76.75, bottom:74.5,  labelX:1652.6, labelY:567};
const mapF = {id:'f', xL:1649.6, xR:2052.6, yA:1876, k:178.7, top:76.5,  bottom:74.25, labelX:1642.5, labelY:2305.5};

const NS = 'http://www.w3.org/2000/svg';
const svg = document.getElementById('figure');
const fieldLayer = document.getElementById('fields');
const overlayLayer = document.getElementById('overlays');

function mk(tag, attrs, parent){
  const el = document.createElementNS(NS, tag);
  for (const k in attrs) el.setAttribute(k, attrs[k]);
  (parent || svg).appendChild(el);
  return el;
}

/* ---------- axis functions ---------- */
function xScale(P, lon){ return P.xL + (lon + 8) * (P.xR - P.xL) / 7; }
function xInvert(P, x){ return (x - P.xL) * 7 / (P.xR - P.xL) - 8; }
function yScale(P, p){ return p <= 210 ? P.yTop + p * P.kU : P.yLow + (p - 210) * P.kL; }
function mapXScale(M, lon){ return M.xR + lon * (M.xR - M.xL) / 9; }
function mapYScale(M, lat){ return M.yA + (76.5 - lat) * M.k; }

/* ---------- MATLAB jet ---------- */
function jet(m){
  const n = Math.ceil(m / 4);
  const u = [];
  for (let i = 1; i <= n; i++) u.push(i / n);
  for (let i = 1; i < n; i++) u.push(1);
  for (let i = n; i >= 1; i--) u.push(i / n);
  const off = Math.ceil(n / 2) - (m % 4 === 1 ? 1 : 0);
  const out = [];
  for (let i = 0; i < m; i++) out.push([0, 0, 0]);
  for (let i = 0; i < u.length; i++){
    const g = off + i + 1;
    if (g <= m) out[g - 1][1] = u[i];
  }
  const rIdx = [];
  for (let i = 0; i < u.length; i++){ const r = off + i + 1 + n; if (r <= m) rIdx.push(r); }
  rIdx.forEach((r, i) => { out[r - 1][0] = u[i]; });
  const bIdx = [];
  for (let i = 0; i < u.length; i++){ const b = off + i + 1 - n; if (b >= 1) bIdx.push(b); }
  bIdx.forEach((b, i) => { out[b - 1][2] = u[u.length - bIdx.length + i]; });
  return out.map(c => 'rgb(' + c.map(v => Math.round(v * 255)).join(',') + ')');
}
const salinityColors = jet(23);
const temperatureColors = jet(34);

/* ---------- filled section field, contour-style ---------- */
function bottomAt(edges, depths, lon){
  for (let i = 0; i < depths.length; i++){
    if (lon >= edges[i] && lon <= edges[i + 1]) return depths[i];
  }
  return depths[depths.length - 1];
}

function drawField(P, lons, pressures, rows, edges, depths, vmin, step, colors, name){
  const bands = colors.map(() => []);
  const stripe = 2;
  const pTop = 1.7;
  const x0 = xScale(P, lons[0]);
  const x1 = xScale(P, edges[edges.length - 1]);
  for (let x = x0; x < x1 - 0.01; x += stripe){
    const lon = Math.min(xInvert(P, x + stripe / 2), lons[lons.length - 1]);
    let c = 0;
    while (c < lons.length - 2 && lon > lons[c + 1]) c++;
    const f = Math.max(0, Math.min(1, (lon - lons[c]) / (lons[c + 1] - lons[c])));
    const colVals = rows.map(r => r[c] + (r[c + 1] - r[c]) * f);
    const bottom = bottomAt(edges, depths, lon);
    const sections = [[yScale(P, pTop), yScale(P, 210), y => (y - P.yTop) / P.kU],
                      [P.yLow, yScale(P, bottom), y => 210 + (y - P.yLow) / P.kL]];
    sections.forEach(sec => {
      let yStart = sec[0], cur = -1;
      const yEnd = sec[1];
      for (let y = sec[0]; y < yEnd; y += 1){
        const p = sec[2](y + 0.5);
        let r = 0;
        while (r < pressures.length - 2 && p > pressures[r + 1]) r++;
        const g = Math.max(0, Math.min(1, (p - pressures[r]) / (pressures[r + 1] - pressures[r])));
        const v = colVals[r] + (colVals[r + 1] - colVals[r]) * g;
        const idx = Math.max(0, Math.min(colors.length - 1, Math.floor((v - vmin) / step)));
        if (idx !== cur){
          if (cur >= 0) bands[cur].push('M' + x.toFixed(1) + ' ' + yStart.toFixed(1) + 'h' + stripe + 'V' + y.toFixed(1) + 'h-' + stripe + 'z');
          cur = idx; yStart = y;
        }
      }
      if (cur >= 0) bands[cur].push('M' + x.toFixed(1) + ' ' + yStart.toFixed(1) + 'h' + stripe + 'V' + yEnd.toFixed(1) + 'h-' + stripe + 'z');
    });
  }
  bands.forEach((d, i) => {
    if (!d.length) return;
    const band = mk('path', {d: d.join(''), fill: colors[i], 'shape-rendering': 'crispEdges'}, fieldLayer);
    
    
  });
}

/* ---------- overlays ---------- */
function drawContour(P, lons, prs, dash, opacity, name){
  const pts = lons.map((lon, i) => xScale(P, lon).toFixed(1) + ',' + yScale(P, prs[i]).toFixed(1)).join(' ');
  const line = mk('polyline', {points: pts, fill: 'none', stroke: '#222', 'stroke-width': 1.5, 'stroke-opacity': opacity, 'stroke-dasharray': dash}, overlayLayer);
  
  
}

function drawStations(P, lons, fill){
  lons.forEach(lon => {
    const dot = mk('circle', {cx: xScale(P, lon).toFixed(1), cy: yScale(P, 950).toFixed(1), r: 2.1, fill: fill, 'fill-opacity': 0.8}, overlayLayer);
    
    
  });
}

function drawAxes(P){
  const uBot = yScale(P, 210);
  const gap = mk('rect', {x: P.xL - 1, y: uBot + 0.5, width: P.xR - P.xL + 2, height: P.yLow - uBot - 1, fill: '#fff'}, overlayLayer);
  
  

  const f1 = mk('rect', {x: P.xL, y: P.yTop, width: P.xR - P.xL, height: uBot - P.yTop, fill: 'none', stroke: '#909090', 'stroke-width': 1.6}, overlayLayer);
  
  
  const yBot = yScale(P, 1000);
  const f2 = mk('rect', {x: P.xL, y: P.yLow, width: P.xR - P.xL, height: yBot - P.yLow, fill: 'none', stroke: '#909090', 'stroke-width': 1.6}, overlayLayer);
  
  

  xTickLons.forEach(lon => {
    const x = xScale(P, lon);
    [[P.yTop, 5], [uBot, -5], [P.yLow, 5], [yBot, -6]].forEach(t => {
      const tick = mk('line', {x1: x, x2: x, y1: t[0], y2: t[0] + t[1], stroke: '#666', 'stroke-width': 1.2}, overlayLayer);
      
      
    });
    const lab = mk('text', {x: x, y: P.yDots, 'font-size': 19.5, fill: '#555', 'text-anchor': 'middle'}, overlayLayer);
    
    
    lab.textContent = String(lon);
  });
  upperPressureTicks.concat(lowerPressureTicks).forEach(p => {
    const y = yScale(P, p);
    [[P.xL, 6], [P.xR, -6]].forEach(t => {
      if (p === 0 || p === 1000) return;
      const tick = mk('line', {x1: t[0], x2: t[0] + t[1], y1: y, y2: y, stroke: '#666', 'stroke-width': 1.2}, overlayLayer);
      
      
    });
    const lab = mk('text', {x: P.xL - 8.5, y: y + 7, 'font-size': 19.5, fill: '#555', 'text-anchor': 'end'}, overlayLayer);
    
    
    lab.textContent = String(p);
  });
}

/* ---------- colorbars ---------- */
function drawColorbar(ticks, colors, x0, x1, yFirst, yLast, labelX, name){
  const yAt = i => yFirst + (yLast - yFirst) * i / (ticks.length - 1);
  for (let i = 0; i < ticks.length - 1; i++){
    const sw = mk('rect', {x: x0, y: yAt(i), width: x1 - x0, height: yAt(i + 1) - yAt(i) + 0.5, fill: colors[colors.length - 1 - i]}, overlayLayer);
    
    
  }
  ticks.forEach((t, i) => {
    if (i > 0 && i < ticks.length - 1){
      const sep = mk('line', {x1: x0, x2: x1, y1: yAt(i), y2: yAt(i), stroke: '#222', 'stroke-width': 1.1, 'stroke-opacity': 0.7}, overlayLayer);
      
      
    }
    const lab = mk('text', {x: labelX, y: yAt(i) + 8, 'font-size': 23, 'font-weight': 'bold', fill: '#2a2a2a'}, overlayLayer);
    
    
    lab.textContent = String(t);
  });
}

/* ---------- maps ---------- */
function mapPoints(M, lons, lats){
  return lons.map((lon, i) => mapXScale(M, lon).toFixed(1) + ',' + mapYScale(M, lats[i]).toFixed(1)).join(' ');
}
function drawMapLine(M, lons, lats, stroke, width, dash, name){
  const line = mk('polyline', {points: mapPoints(M, lons, lats), fill: 'none', stroke: stroke, 'stroke-width': width, 'stroke-dasharray': dash || 'none', 'stroke-linejoin': 'round'}, overlayLayer);
  
  
}
function drawMapFrame(M){
  const yT = mapYScale(M, M.top), yB = mapYScale(M, M.bottom);
  const fr = mk('rect', {x: M.xL, y: yT, width: M.xR - M.xL, height: yB - yT, fill: 'none', stroke: '#555', 'stroke-width': 2.6}, overlayLayer);
  
  
  mapLonTicks.forEach(lon => {
    const x = mapXScale(M, lon);
    [[yT, 6], [yB, -6]].forEach(t => {
      const tick = mk('line', {x1: x, x2: x, y1: t[0], y2: t[0] + t[1], stroke: '#444', 'stroke-width': 1.6}, overlayLayer);
      
      
    });
    const lab = mk('text', {x: x, y: M.labelY, 'font-size': 20.5, fill: '#555', 'text-anchor': 'middle'}, overlayLayer);
    
    
    lab.textContent = lon + '°';
  });
  mapLatTicks.forEach(lat => {
    const y = mapYScale(M, lat);
    [[M.xL, 6], [M.xR, -6]].forEach(t => {
      const tick = mk('line', {x1: t[0], x2: t[0] + t[1], y1: y, y2: y, stroke: '#444', 'stroke-width': 1.6}, overlayLayer);
      
      
    });
    const lab = mk('text', {x: M.labelX, y: y + 7.5, 'font-size': 20.5, fill: '#555', 'text-anchor': 'end'}, overlayLayer);
    
    
    lab.textContent = lat + '°';
  });
}

/* ---------- draw everything ---------- */
drawField(panelA, lon2014, pressureSalinity2014, salinity2014, bottomEdges2014, bottomDepths2014, 29.5, 0.25, salinityColors, 'salinity-band');
drawField(panelB, lon2014, pressureTemperature2014, temperature2014, bottomEdges2014, bottomDepths2014, -2, 0.25, temperatureColors, 'temperature-band');
drawField(panelD, lonSalinity2015, pressureSalinity2015, salinity2015, bottomEdges2015, bottomDepths2015, 29.5, 0.25, salinityColors, 'salinity-band');
drawField(panelE, lon2015, pressureTemperature2015, temperature2015, bottomEdges2015, bottomDepths2015, -2, 0.25, temperatureColors, 'temperature-band');

[[panelA, 0.16], [panelB, 0.5]].forEach(cfg => {
  const P = cfg[0];
  drawContour(P, sigma260Lon2014, sigma260Prs2014, 'none', 0.62, 'sigma-26-0-contour');
  drawContour(P, sigma265Lon2014, sigma265Prs2014, '5 2 1 2', 0.55, 'sigma-26-5-contour');
  drawContour(P, sigma265Lon2014, sigma270Prs2014, '2 2', 0.55, 'sigma-27-0-contour');
  drawContour(P, sigma275Lon2014, sigma275Prs2014, 'none', 0.6, 'sigma-27-5-contour');
  drawContour(P, sigma280Lon2014, sigma280Prs2014, '4 3', cfg[1], 'sigma-28-0-contour');
});
drawStations(panelA, stations2014, '#2a0a10');
drawStations(panelB, stations2014, '#0a1440');

[[panelD, 0.16], [panelE, 0.45]].forEach(cfg => {
  const P = cfg[0];
  drawContour(P, sigma260Lon2015, sigma260Prs2015, 'none', 0.6, 'sigma-26-0-contour');
  drawContour(P, sigma265Lon2015, sigma265Prs2015, '5 2 1 2', 0.55, 'sigma-26-5-contour');
  drawContour(P, sigma270Lon2015, sigma270Prs2015, '2 2', 0.55, 'sigma-27-0-contour');
  drawContour(P, sigma262Lon2015, sigma262Prs2015, 'none', 0.6, 'sigma-26-0-contour');
  drawContour(P, sigmaCapLon2015, sigmaCapPrs2015, 'none', 0.5, 'sigma-26-0-contour');
  drawContour(P, sigma275Lon2015, sigma275Prs2015, 'none', 0.5, 'sigma-27-5-contour');
  drawContour(P, sigma280Lon2015, sigma280Prs2015, '3 3', cfg[1], 'sigma-28-0-contour');
});
drawStations(panelD, stations2015, '#111');
drawStations(panelE, stations2015, '#111');

[panelA, panelB, panelD, panelE].forEach(drawAxes);

drawColorbar(psalTicks, salinityColors, 703.5, 740, 919, 1671, 750, 'psal-colorbar');
drawColorbar(ptempTicks, temperatureColors, 1585.6, 1622.5, 921, 1674, 1632.5, 'ptemp-colorbar');

[[mapC1Lon, mapC1Lat], [mapC2Lon, mapC2Lat], [mapC3Lon, mapC3Lat], [mapC4Lon, mapC4Lat]].forEach(c => {
  drawMapLine(mapC, c[0], c[1], '#bcbcbc', 2, null, 'bathymetry-contour');
});
drawMapLine(mapC, iceEdgeLon, iceEdgeLat, '#3a3a3a', 2.2, null, 'ice-edge-line');
drawMapLine(mapC, iceEdgeTopLon, iceEdgeTopLat, '#3a3a3a', 2.2, null, 'ice-edge-line');
drawMapLine(mapC, trackCLon, trackCLat, '#d0525e', 2.8, null, 'section-track');
drawMapLine(mapC, trackCLon, trackCLat, '#4a1820', 1.1, '4 3', 'section-stations');
const seamountC = mk('circle', {cx: mapXScale(mapC, -6), cy: mapYScale(mapC, 76.7), r: 2.4, fill: 'none', stroke: '#bcbcbc', 'stroke-width': 1.4}, overlayLayer);


drawMapFrame(mapC);

[[mapF1Lon, mapF1Lat], [mapF2Lon, mapF2Lat], [mapF3Lon, mapF3Lat], [mapF4Lon, mapF4Lat], [mapF5Lon, mapF5Lat]].forEach(c => {
  drawMapLine(mapF, c[0], c[1], '#a8a8a8', 1.8, null, 'bathymetry-contour');
});
const seamountF = mk('circle', {cx: mapXScale(mapF, -6), cy: mapYScale(mapF, 76.2), r: 3, fill: 'none', stroke: '#a8a8a8', 'stroke-width': 1.4}, overlayLayer);


drawMapLine(mapF, trackFWestLon, trackFWestLat, '#1a1a96', 2.8, '2.4 2', 'section-track');
drawMapLine(mapF, trackFEastLon, trackFEastLat, '#1a1a96', 2.8, null, 'section-track');
drawMapFrame(mapF);
</script>
</body>
</html>
